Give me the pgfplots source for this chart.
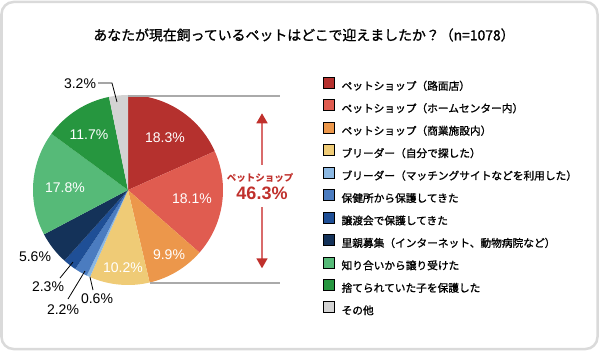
\documentclass[border=0pt]{standalone}
\usepackage{pgfplots}
\pgfplotsset{compat=1.18}
\usepackage{pgfplotstable}
\usetikzlibrary{arrows.meta}
\usepackage{fontspec}
\setmainfont{Liberation Sans}
\newfontfamily\jp{Noto Sans CJK JP}
\newfontfamily\jpm[FakeBold=1.2]{Noto Sans CJK JP}

\definecolor{pc0}{HTML}{B5312E}
\definecolor{pc1}{HTML}{E05C50}
\definecolor{pc2}{HTML}{EC974B}
\definecolor{pc3}{HTML}{EFCB76}
\definecolor{pc4}{HTML}{8CB8E2}
\definecolor{pc5}{HTML}{4B7CC0}
\definecolor{pc6}{HTML}{1F4F96}
\definecolor{pc7}{HTML}{143259}
\definecolor{pc8}{HTML}{56BA78}
\definecolor{pc9}{HTML}{26963F}
\definecolor{pc10}{HTML}{D3D3D3}
\definecolor{framec}{HTML}{DADADA}
\definecolor{bracketc}{HTML}{AAAAAA}
\definecolor{arrowline}{HTML}{D96B6B}
\definecolor{arrowhead}{HTML}{C0302C}
\definecolor{labred}{HTML}{C0302C}

% share of each answer, in percent (clockwise from 12 o'clock)
\pgfplotstableread{
pct
18.3
18.1
9.9
10.2
0.6
2.2
2.3
5.6
17.8
11.7
3.2
}\piedata

\begin{document}
\begin{tikzpicture}
\def\total{0}
\pgfplotsforeachungrouped \i in {0,...,10}{%
  \pgfplotstablegetelem{\i}{pct}\of\piedata
  \pgfmathsetmacro\total{\total+\pgfplotsretval}}
\def\cum{0}
\pgfplotsforeachungrouped \i in {0,...,10}{%
  \pgfplotstablegetelem{\i}{pct}\of\piedata
  \pgfmathsetmacro\myA{90-\cum/\total*360}%
  \pgfmathsetmacro\cum{\cum+\pgfplotsretval}%
  \pgfmathsetmacro\myB{90-\cum/\total*360}%
  \expandafter\xdef\csname sa\i\endcsname{\myA}%
  \expandafter\xdef\csname sb\i\endcsname{\myB}%
}
\begin{axis}[
  at={(0,0)}, anchor=south west,
  scale only axis, width=600bp, height=351bp,
  xmin=0, xmax=600, ymin=0, ymax=351,
  hide axis, clip=false,
  legend cell align=left,
  legend image code/.code={\fill[#1] (0bp,-1.5bp) rectangle (11bp,9.5bp);},
  legend style={at={(axis cs:323,274.2)}, anchor=north west,
    draw=none, fill=none, inner sep=0pt, row sep=7.4bp, column sep=7bp,
    nodes={inner sep=0pt, text height=8.5bp, text depth=2.2bp},
    font=\jpm\fontsize{10.7bp}{12bp}\selectfont},
]
\path (axis cs:0,0) rectangle (axis cs:600,351);
\draw[framec, line width=2.5bp, rounded corners=12bp]
  (axis cs:1.5,2) rectangle (axis cs:597.5,349);

% pie slices
\pgfplotsinvokeforeach{0,...,10}{%
  \fill[pc#1] (axis cs:128,161) -- ++(\csname sa#1\endcsname:95bp)
    arc[start angle=\csname sa#1\endcsname, end angle=\csname sb#1\endcsname, radius=95bp] -- cycle;
}

% legend
\addlegendimage{fill=pc0}\addlegendentry{ペットショップ（路面店）}
\addlegendimage{fill=pc1}\addlegendentry{ペットショップ（ホームセンター内）}
\addlegendimage{fill=pc2}\addlegendentry{ペットショップ（商業施設内）}
\addlegendimage{fill=pc3}\addlegendentry{ブリーダー（自分で探した）}
\addlegendimage{fill=pc4}\addlegendentry{ブリーダー（マッチングサイトなどを利用した）}
\addlegendimage{fill=pc5}\addlegendentry{保健所から保護してきた}
\addlegendimage{fill=pc6}\addlegendentry{譲渡会で保護してきた}
\addlegendimage{fill=pc7}\addlegendentry{里親募集（インターネット、動物病院など）}
\addlegendimage{fill=pc8}\addlegendentry{知り合いから譲り受けた}
\addlegendimage{fill=pc9}\addlegendentry{捨てられていた子を保護した}
\addlegendimage{fill=pc10}\addlegendentry{その他}

% title
\node[font=\jpm\fontsize{13.9bp}{16bp}\selectfont] at (axis cs:304,316)
  {あなたが現在飼っているペットはどこで迎えましたか？（n=1078）};

% inside labels
\begin{scope}[every node/.style={text=white, font=\fontsize{14bp}{16bp}\selectfont}]
\node at (axis cs:165,213) {18.3\%};
\node at (axis cs:192,152) {18.1\%};
\node at (axis cs:169,96) {9.9\%};
\node at (axis cs:123,83) {10.2\%};
\node at (axis cs:65,163) {17.8\%};
\node at (axis cs:89,216) {11.7\%};
\end{scope}

% outside labels
\begin{scope}[every node/.style={text=black, font=\fontsize{14bp}{16bp}\selectfont}]
\node at (axis cs:80,267) {3.2\%};
\node at (axis cs:35,94) {5.6\%};
\node at (axis cs:48,64) {2.3\%};
\node at (axis cs:63,41) {2.2\%};
\node at (axis cs:97,52) {0.6\%};
\end{scope}
\draw[black, line width=0.8bp] (axis cs:98,268) -- (axis cs:112,268) -- (axis cs:117,249);
\draw[black, line width=0.8bp] (axis cs:60,73) -- (axis cs:73,89);
\draw[black, line width=0.8bp] (axis cs:68,52) -- (axis cs:85,80);
\draw[black, line width=0.8bp] (axis cs:93,61) -- (axis cs:90,74);

% bracket for pet shops
\draw[bracketc, line width=2bp] (axis cs:128,255.3) -- (axis cs:280,255.3);
\draw[bracketc, line width=2bp] (axis cs:150,67.7) -- (axis cs:280,67.7);
\draw[arrowline, line width=1.6bp,
  {Triangle[length=10bp,width=11bp,color=arrowhead]}-{Triangle[length=10bp,width=11bp,color=arrowhead]}]
  (axis cs:262,237.7) -- (axis cs:262,82.7);
\fill[white] (axis cs:236,144) rectangle (axis cs:290,186);
\node[text=labred, font=\jp\bfseries\fontsize{9.5bp}{11bp}\selectfont] at (axis cs:260,173) {ペットショップ};
\node[text=labred, font=\bfseries\fontsize{18bp}{20bp}\selectfont] at (axis cs:262,158) {46.3\%};
\end{axis}
\end{tikzpicture}
\end{document}
